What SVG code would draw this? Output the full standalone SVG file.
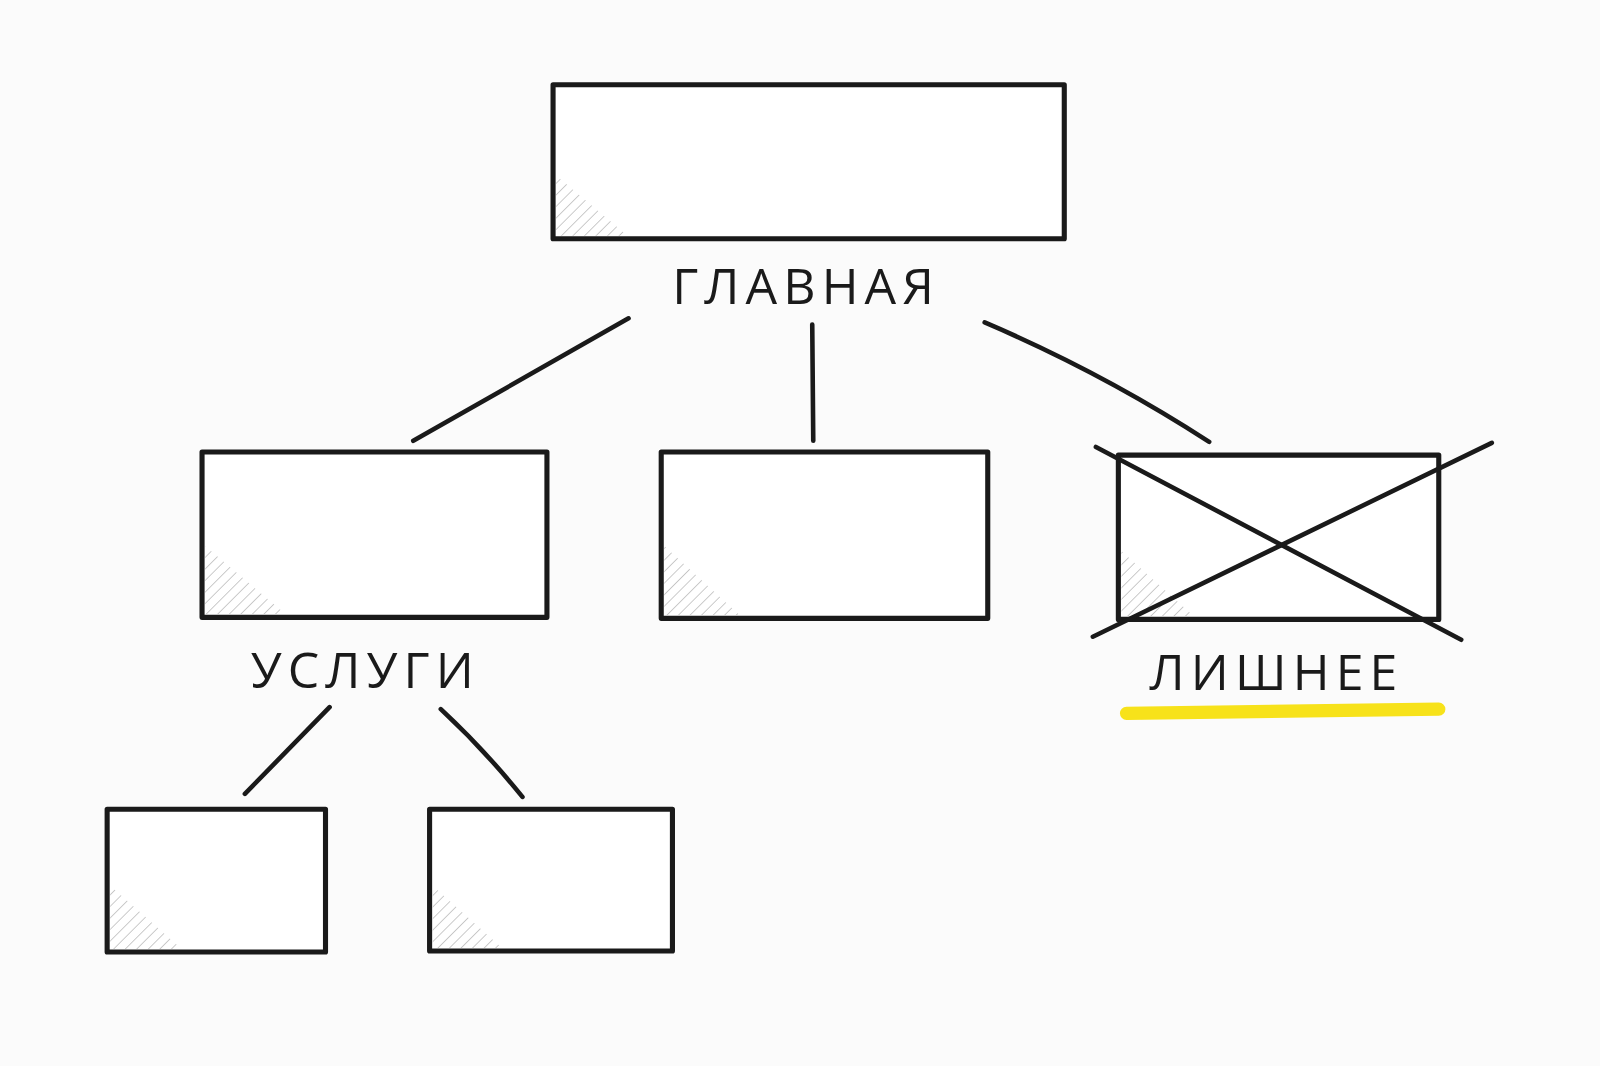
<svg xmlns="http://www.w3.org/2000/svg" width="1600" height="1066" viewBox="0 0 1600 1066">
<style>
.box{fill:#fff;stroke:#1a1a1a;stroke-width:5;stroke-linejoin:round}
.ln{stroke:#1a1a1a;stroke-width:4.5;stroke-linecap:round;fill:none}
.lbl{font-family:"Open Sans","DejaVu Sans",sans-serif;font-size:49px;font-weight:500;letter-spacing:6px;fill:#1a1a1a;text-anchor:middle}
.h{fill:url(#hatch)}
</style>
<defs>
<pattern id="hatch" width="8" height="8" patternUnits="userSpaceOnUse" patternTransform="rotate(45)">
<line x1="0" y1="0" x2="0" y2="8" stroke="#bbb" stroke-width="1.5"/>
</pattern>
</defs>
<rect width="1600" height="1066" fill="#fbfbfb"/>
<g transform="scale(1.0204)">
<g id="connectors">
<path class="ln" d="M616 312 L405 432"/>
<path class="ln" d="M796 318 L797 432"/>
<path class="ln" d="M965 316 Q1080 365 1185 433"/>
<path class="ln" d="M323 693 L240 778"/>
<path class="ln" d="M432 695 Q475 735 512 781"/>
</g>
<g id="main">
<rect class="box" x="542" y="83" width="501" height="151"/>
<polygon class="h" points="545,172 545,231 615,231"/>
<text class="lbl" x="790" y="298">ГЛАВНАЯ</text>
</g>
<g id="uslugi">
<rect class="box" x="198" y="443" width="338" height="162"/>
<polygon class="h" points="201,535 201,602 280,602"/>
<text class="lbl" x="358" y="674">УСЛУГИ</text>
</g>
<g id="middle">
<rect class="box" x="648" y="443" width="320" height="163"/>
<polygon class="h" points="651,535 651,603 725,603"/>
</g>
<g id="extra">
<rect class="box" x="1096" y="446" width="314" height="161"/>
<polygon class="h" points="1099,540 1099,604 1170,604"/>
<path class="ln" d="M1074 438 L1432 627"/>
<path class="ln" d="M1462 434 L1071 624"/>
<path d="M1104 699 L1410 695" stroke="#f7e21a" stroke-width="13" stroke-linecap="round"/>
<text class="lbl" x="1251" y="676">ЛИШНЕЕ</text>
</g>
<g id="sub1">
<rect class="box" x="105" y="793" width="214" height="140"/>
<polygon class="h" points="108,868 108,930 178,930"/>
</g>
<g id="sub2">
<rect class="box" x="421" y="793" width="238" height="139"/>
<polygon class="h" points="424,868 424,929 492,929"/>
</g>
</g>
</svg>
